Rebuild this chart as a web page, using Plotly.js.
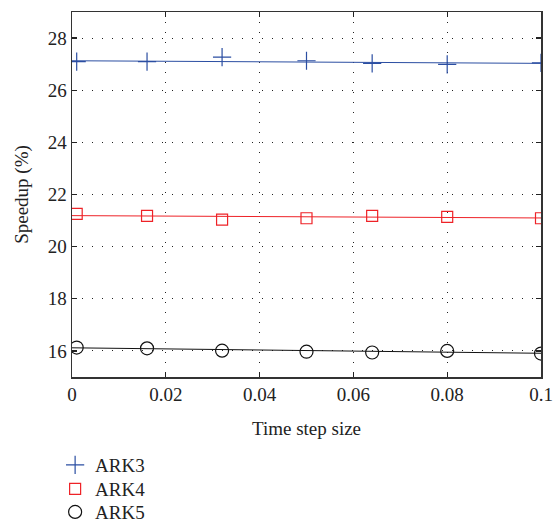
<!DOCTYPE html>
<html>
<head>
<meta charset="utf-8">
<script src="https://cdn.plot.ly/plotly-3.0.1.min.js"></script>
<style>html,body{margin:0;padding:0;background:#fff}#chart{width:553px;height:523px}</style>
</head>
<body>
<div id="chart"></div>
<script>
const stepSizes = [0.001, 0.016, 0.032, 0.05, 0.064, 0.08, 0.1];
const ark3 = [27.10, 27.10, 27.27, 27.13, 27.03, 26.99, 27.05];
const ark4 = [21.26, 21.18, 21.04, 21.09, 21.18, 21.14, 21.09];
const ark5 = [16.13, 16.10, 16.01, 15.97, 15.94, 16.00, 15.90];
const fitX = [0, 0.1];
const ark3Fit = [27.13, 27.03];
const ark4Fit = [21.19, 21.10];
const ark5Fit = [16.12, 15.91];
const seriesNames = ['ARK3', 'ARK4', 'ARK5'];
const xTicks = [0, 0.02, 0.04, 0.06, 0.08, 0.1];
const xTickText = ['0', '0.02', '0.04', '0.06', '0.08', '0.1'];
const yTicks = [16, 18, 20, 22, 24, 26, 28];

const colors = ['#2b4ea2', '#ee2227', '#111111'];
const symbols = ['cross-thin-open', 'square-open', 'circle-open'];
const sizes = [13, 11, 13];
const vals = [ark3, ark4, ark5];
const fits = [ark3Fit, ark4Fit, ark5Fit];
const legendIds = ['legend', 'legend2', 'legend3'];
const legendY = [-0.241, -0.307, -0.370];

const font = 'Liberation Serif';
const traces = [];
for (let i = 0; i < 3; i++) {
  traces.push({x: fitX, y: fits[i], mode: 'lines', line: {color: colors[i], width: 1}, showlegend: false, hoverinfo: 'skip'});
}
for (let i = 0; i < 3; i++) {
  traces.push({x: stepSizes, y: vals[i], mode: 'markers', name: seriesNames[i], legend: legendIds[i],
    marker: {symbol: symbols[i], size: sizes[i], color: colors[i], line: {color: colors[i], width: 1.2}}});
}

const axisCommon = {
  showline: true, linecolor: '#333', linewidth: 1.5, mirror: 'ticks',
  ticks: 'inside', ticklen: 5, tickcolor: '#222', tickwidth: 1.2,
  showgrid: true, gridcolor: '#222', gridwidth: 1, griddash: '1px,9px',
  zeroline: false, automargin: false, tickfont: {family: font, size: 19, color: '#222'}
};

const layout = {
  width: 553, height: 523,
  margin: {l: 72, r: 12, t: 12, b: 146, autoexpand: false},
  paper_bgcolor: '#fff', plot_bgcolor: '#fff',
  font: {family: font, color: '#222'},
  xaxis: Object.assign({}, axisCommon, {range: [0, 0.1], tickvals: xTicks, ticktext: xTickText,
    title: {text: 'Time step size', font: {family: font, size: 19, color: '#222'}, standoff: 17}}),
  yaxis: Object.assign({}, axisCommon, {range: [15, 29], tickvals: yTicks,
    title: {text: 'Speedup (%)', font: {family: font, size: 19, color: '#222'}, standoff: 14}}),
  showlegend: true
};
for (let i = 0; i < 3; i++) {
  layout[legendIds[i]] = {x: -0.036, y: legendY[i], xanchor: 'left', yanchor: 'middle', bgcolor: 'rgba(0,0,0,0)',
    font: {family: font, size: 19, color: '#222'}, itemwidth: 30};
}

Plotly.newPlot('chart', traces, layout, {displayModeBar: false, staticPlot: true});
</script>
</body>
</html>
